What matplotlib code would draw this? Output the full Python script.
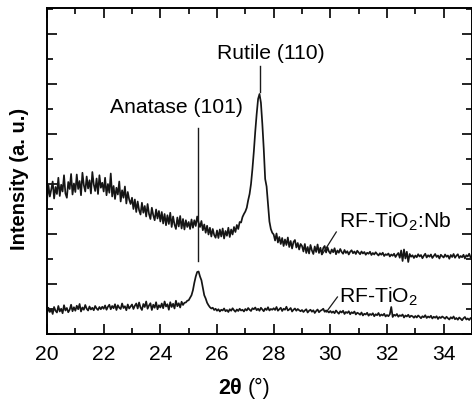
import numpy as np
import matplotlib
matplotlib.use("Agg")
import matplotlib.pyplot as plt
from matplotlib.ticker import MultipleLocator

plt.rcParams['font.family'] = ['Liberation Sans', 'DejaVu Sans']
plt.rcParams['mathtext.fontset'] = 'custom'
plt.rcParams['mathtext.rm'] = 'Liberation Sans'
plt.rcParams['mathtext.it'] = 'Liberation Sans:italic'
plt.rcParams['mathtext.bf'] = 'Liberation Sans:bold'

# XRD scans, 2theta step 0.05 deg
two_theta = np.linspace(20, 35, 301)

# RF-TiO2:Nb (upper trace)
nb = [
    5.35, 5.95, 5.50, 5.78, 6.10, 5.42, 5.88, 5.60, 6.25, 5.52, 5.97, 5.70, 6.35, 5.62, 5.45, 6.08, 5.80, 6.40, 5.58, 6.02,
    5.68, 6.38, 5.80, 6.12, 5.55, 6.45, 5.95, 5.70, 6.30, 5.82, 6.15, 5.62, 6.48, 5.98, 5.72, 6.22, 5.60, 6.35, 5.85, 6.05,
    5.70, 6.25, 5.55, 6.00, 5.65, 6.42, 5.50, 5.92, 5.40, 5.85, 5.58, 6.10, 5.30, 5.75, 5.45, 5.90, 5.22, 5.68, 5.38, 5.20,
    5.45, 5.00, 5.38, 4.88, 5.30, 4.95, 4.78, 5.25, 4.85, 5.12, 4.70, 5.20, 4.80, 4.60, 5.05, 4.75, 4.55, 4.98, 4.62, 4.92,
    4.50, 4.88, 4.42, 4.80, 4.35, 4.75, 4.40, 4.85, 4.28, 4.70, 4.38, 4.20, 4.66, 4.30, 4.72, 4.22, 4.60, 4.18, 4.55, 4.28,
    4.48, 4.20, 4.58, 4.25, 4.55, 4.32, 4.70, 4.45, 4.28, 4.52, 4.15, 4.38, 4.05, 4.33, 3.98, 4.25, 3.90, 4.20, 3.96, 3.85,
    4.14, 3.84, 4.18, 3.90, 4.22, 3.82, 4.12, 3.93, 4.25, 3.88, 4.18, 3.98, 4.28, 4.08, 4.36, 4.20, 4.48, 4.46, 4.68, 4.80,
    4.90, 5.05, 5.35, 5.60, 6.00, 6.60, 7.30, 8.10, 8.80, 9.40, 9.60, 9.25, 8.40, 7.40, 6.20, 5.90, 5.20, 4.50, 4.20, 4.05,
    3.98, 3.74, 4.02, 3.66, 3.88, 3.60, 3.84, 3.52, 3.78, 3.56, 3.86, 3.48, 3.72, 3.42, 3.68, 3.76, 3.46, 3.64, 3.38, 3.60,
    3.52, 3.30, 3.60, 3.24, 3.48, 3.22, 3.56, 3.34, 3.20, 3.50, 3.28, 3.58, 3.24, 3.45, 3.18, 3.44, 3.52, 3.26, 3.47, 3.30,
    3.22, 3.38, 3.27, 3.43, 3.19, 3.34, 3.25, 3.40, 3.28, 3.21, 3.36, 3.24, 3.31, 3.18, 3.29, 3.35, 3.23, 3.30, 3.20, 3.33,
    3.26, 3.19, 3.30, 3.22, 3.28, 3.17, 3.25, 3.21, 3.29, 3.16, 3.24, 3.18, 3.27, 3.20, 3.14, 3.23, 3.17, 3.25, 3.12, 3.19,
    3.16, 3.22, 3.10, 3.18, 3.13, 3.21, 3.08, 3.17, 3.24, 3.05, 3.34, 2.92, 3.38, 3.02, 3.29, 2.88, 3.20, 3.09, 3.15, 3.04,
    3.14, 3.07, 3.19, 3.10, 3.16, 3.03, 3.13, 3.21, 3.06, 3.15, 3.09, 3.18, 3.04, 3.12, 3.20, 3.08, 3.14, 3.02, 3.17, 3.11,
    3.06, 3.18, 3.09, 3.14, 3.01, 3.16, 3.08, 3.20, 3.05, 3.13, 3.19, 3.04, 3.12, 3.07, 3.17, 3.02, 3.15, 3.10, 3.21, 3.06,
    3.12,
]

# RF-TiO2 (lower trace)
pure = [
    0.82, 1.05, 0.88, 0.99, 0.80, 1.08, 0.93, 0.86, 1.12, 0.90, 1.01, 0.83, 1.15, 0.94, 1.04, 0.87, 0.97, 1.17, 0.91, 1.07,
    0.93, 1.13, 0.99, 1.20, 0.90, 1.06, 0.97, 1.16, 1.01, 0.94, 1.10, 0.98, 1.05, 0.95, 1.12, 1.02, 0.96, 1.08, 0.99, 1.09,
    1.01, 1.14, 0.97, 1.09, 1.17, 0.99, 1.12, 1.03, 1.19, 0.96, 1.15, 1.05, 1.00, 1.22, 1.04, 1.11, 0.95, 1.18, 1.02, 1.10,
    1.18, 1.00, 1.13, 1.22, 1.02, 1.26, 1.06, 0.96, 1.20, 1.08, 1.30, 1.01, 1.14, 1.23, 0.96, 1.17, 1.05, 1.27, 0.99, 1.15,
    1.06, 1.22, 1.03, 1.30, 1.10, 1.19, 0.97, 1.27, 1.08, 1.21, 1.02, 1.33, 1.11, 1.23, 1.06, 1.29, 1.16, 1.25, 1.26, 1.33,
    1.35, 1.45, 1.55, 1.75, 2.05, 2.30, 2.48, 2.50, 2.30, 2.15, 1.85, 1.55, 1.42, 1.25, 1.15, 1.07, 1.02, 1.05, 0.96, 1.01,
    0.93, 0.99, 0.90, 0.97, 0.94, 1.02, 0.91, 0.96, 0.88, 0.99, 0.93, 1.03, 0.95, 0.89, 0.98, 0.92, 1.01, 0.94, 0.97, 0.90,
    1.00, 0.94, 1.04, 0.97, 0.92, 1.03, 0.99, 1.06, 0.95, 1.01, 0.93, 1.05, 0.98, 0.91, 1.02, 0.96, 1.07, 0.94, 1.00, 0.97,
    1.03, 0.96, 1.08, 0.93, 0.99, 1.05, 0.92, 1.01, 0.97, 1.09, 0.94, 0.98, 1.04, 0.90, 0.97, 1.02, 0.93, 1.00, 0.95, 0.91,
    0.96, 0.88, 0.94, 0.99, 0.86, 0.93, 0.97, 0.89, 0.95, 0.84, 0.92, 0.98, 0.87, 0.93, 0.96, 1.01, 0.89, 0.94, 0.91, 0.86,
    0.92, 0.85, 0.90, 0.83, 0.94, 0.87, 0.81, 0.91, 0.86, 0.93, 0.80, 0.88, 0.84, 0.91, 0.79, 0.87, 0.83, 0.90, 0.78, 0.85,
    0.82, 0.77, 0.86, 0.74, 0.81, 0.78, 0.85, 0.73, 0.80, 0.76, 0.83, 0.71, 0.79, 0.75, 0.84, 0.72, 0.78, 0.74, 0.81, 0.70,
    0.76, 0.71, 0.79, 1.08, 0.68, 0.77, 0.73, 0.80, 0.69, 0.75, 0.72, 0.78, 0.66, 0.74, 0.70, 0.77, 0.67, 0.73, 0.71, 0.65,
    0.72, 0.66, 0.74, 0.69, 0.63, 0.71, 0.67, 0.75, 0.64, 0.70, 0.66, 0.73, 0.62, 0.69, 0.65, 0.71, 0.60, 0.68, 0.64, 0.70,
    0.66, 0.61, 0.69, 0.63, 0.58, 0.67, 0.62, 0.70, 0.59, 0.64, 0.57, 0.66, 0.61, 0.55, 0.63, 0.68, 0.58, 0.62, 0.56, 0.64,
    0.60,
]

anatase_pos = 25.33
rutile_pos = 27.53

fig = plt.figure(figsize=(4.72, 4.02), dpi=100)
ax = fig.add_axes([0.0996, 0.1667, 0.9004, 0.8109])

ax.plot(two_theta, nb, color="#151515", lw=1.25)
ax.plot(two_theta, pure, color="#151515", lw=1.25)

# peak markers
ax.plot([anatase_pos, anatase_pos], [2.92, 8.24], color="#1a1a1a", lw=1.0)
ax.plot([rutile_pos, rutile_pos], [9.68, 10.72], color="#1a1a1a", lw=1.0)
ax.text(24.56, 9.08, "Anatase (101)", ha="center", va="center", fontsize=15.2)
ax.text(27.89, 11.28, "Rutile (110)", ha="center", va="center", fontsize=15.2)

# sample labels with leaders
ax.plot([29.72, 30.21], [3.2, 4.08], color="#1a1a1a", lw=0.9)
ax.plot([29.86, 30.25], [0.88, 1.48], color="#1a1a1a", lw=0.9)
ax.text(30.32, 4.52, "RF-TiO$_2$:Nb", ha="left", va="center", fontsize=15.2)
ax.text(30.32, 1.52, "RF-TiO$_2$", ha="left", va="center", fontsize=15.2)

ax.set_xlim(20, 35)
ax.set_ylim(0, 13.04)
ax.xaxis.set_major_locator(MultipleLocator(2))
ax.xaxis.set_minor_locator(MultipleLocator(1))
ax.yaxis.set_major_locator(MultipleLocator(2))
ax.yaxis.set_minor_locator(MultipleLocator(1))
ax.tick_params(which="both", direction="in", top=True, right=True, width=1.2)
ax.tick_params(which="major", length=7, labelsize=15.2, pad=7)
ax.tick_params(which="minor", length=4)
ax.set_yticklabels([])
for s in ax.spines.values():
    s.set_linewidth(1.4)

fig.text(0.513, 0.0348, "2θ", ha="right", va="center", fontsize=15.5, fontweight="bold")
fig.text(0.525, 0.0348, "(°)", ha="left", va="center", fontsize=15.5)
fig.text(0.042, 0.555, "Intensity (a. u.)", rotation=90, ha="center", va="center",
         fontsize=14.5, fontweight="bold")

fig.savefig("out.png", dpi=100)
